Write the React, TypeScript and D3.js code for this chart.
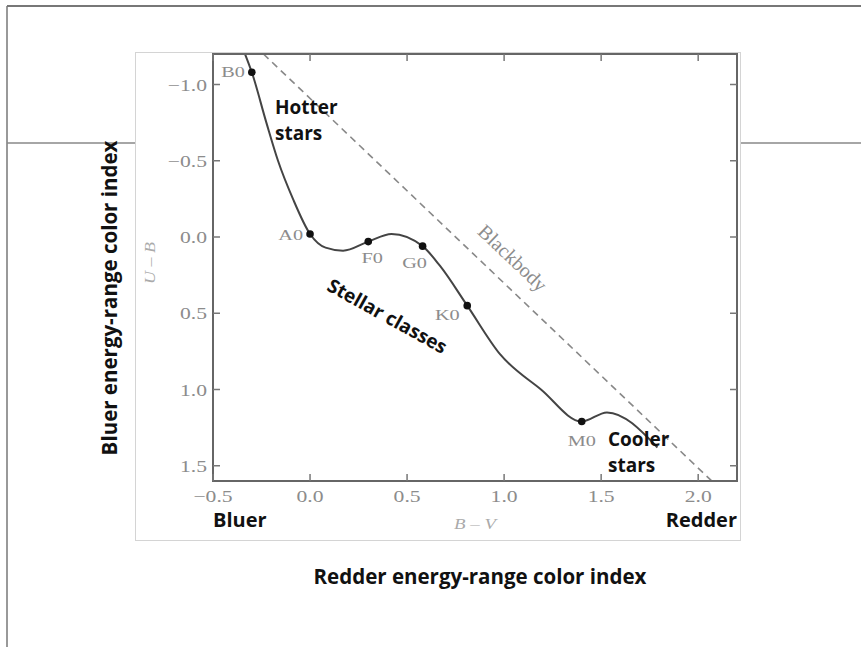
import React from 'react';
import * as d3 from 'd3';

// stellar locus in the (B-V, U-B) plane
const locusBV = [-0.335, -0.3, -0.225, -0.165, -0.088, 0.0, 0.08, 0.17, 0.3, 0.42, 0.58, 0.67, 0.81, 0.98, 1.19, 1.4, 1.53, 1.79];
const locusUB = [-1.2, -1.08, -0.75, -0.5, -0.25, -0.02, 0.07, 0.09, 0.03, -0.02, 0.06, 0.19, 0.45, 0.77, 1.0, 1.21, 1.15, 1.38];

const classNames = ['B0', 'A0', 'F0', 'G0', 'K0', 'M0'];
const classBV = [-0.3, 0.0, 0.3, 0.58, 0.81, 1.4];
const classUB = [-1.08, -0.02, 0.03, 0.06, 0.45, 1.21];

// blackbody line end points
const bbBV = [-0.24, 2.07];
const bbUB = [-1.2, 1.6];

const xTicks = [-0.5, 0.0, 0.5, 1.0, 1.5, 2.0];
const yTicks = [-1.0, -0.5, 0.0, 0.5, 1.0, 1.5];

const W = 861;
const H = 647;
const plot = { left: 213, right: 737, top: 54, bottom: 481 };

const sans = '"Open Sans", sans-serif';
const serif = '"Liberation Serif", serif';
const grey = '#8c8c8c';
const stretch = 1.35; // the pasted figure is stretched sideways

const fmt = (v: number) => (v < 0 ? '\u2212' : '') + Math.abs(v).toFixed(1);

// label offsets relative to the dot
const labelPos: Record<string, [number, number, string]> = {
  B0: [-7, 5, 'end'],
  A0: [-7, 6, 'end'],
  F0: [4, 21, 'middle'],
  G0: [-8, 22, 'middle'],
  K0: [-20, 14, 'middle'],
  M0: [0, 24, 'middle'],
};

type STProps = { x: number; y: number; anchor?: string; size?: number; italic?: boolean; fill?: string; children: any };
const SerifText = ({ x, y, anchor = 'start', size = 15, italic = false, fill = grey, children }: STProps) => (
  <text
    transform={`translate(${x},${y}) scale(${stretch},1)`}
    textAnchor={anchor}
    fontFamily={serif}
    fontStyle={italic ? 'italic' : 'normal'}
    fontSize={size}
    fill={fill}
  >
    {children}
  </text>
);

const App = () => {
  const x = d3.scaleLinear().domain([-0.5, 2.2]).range([plot.left, plot.right]);
  const y = d3.scaleLinear().domain([-1.2, 1.6]).range([plot.top, plot.bottom]);

  const locus = locusBV.map((v, i) => [v, locusUB[i]] as [number, number]);
  const line = d3
    .line<[number, number]>()
    .x((d) => x(d[0]))
    .y((d) => y(d[1]))
    .curve(d3.curveMonotoneX);

  const bx0 = x(bbBV[0]), by0 = y(bbUB[0]);
  const bx1 = x(bbBV[1]), by1 = y(bbUB[1]);
  const bbAngle = (Math.atan2(by1 - by0, bx1 - bx0) * 180) / Math.PI;

  return (
    <svg width={W} height={H} style={{ position: 'absolute', left: 0, top: 0, background: '#fff' }}>
      {/* slide frame */}
      <line x1={7} y1={6} x2={W} y2={6} stroke="#777" strokeWidth={2} />
      <line x1={7} y1={6} x2={7} y2={H} stroke="#777" strokeWidth={1.5} />
      <line x1={7} y1={143} x2={W} y2={143} stroke="#888" strokeWidth={1.5} />

      {/* figure panel */}
      <rect x={135.5} y={52.5} width={605} height={488} fill="#fff" stroke="#d4d4d4" strokeWidth={1} />

      {/* blackbody */}
      <line x1={bx0} y1={by0} x2={bx1} y2={by1} stroke="#888" strokeWidth={1.6} strokeDasharray="7,5" />
      <text
        transform={`translate(${x(1.02)},${y(0.17)}) rotate(${bbAngle})`}
        textAnchor="middle"
        fontFamily={serif}
        fontSize={20}
        fill={grey}
      >
        Blackbody
      </text>

      {/* stellar locus */}
      <path d={line(locus) || ''} fill="none" stroke="#444" strokeWidth={2} />
      {classNames.map((c, i) => {
        const [dx, dy, anchor] = labelPos[c];
        return (
          <g key={c}>
            <circle cx={x(classBV[i])} cy={y(classUB[i])} r={3.8} fill="#111" />
            <SerifText x={x(classBV[i]) + dx} y={y(classUB[i]) + dy} anchor={anchor} size={15}>
              {c}
            </SerifText>
          </g>
        );
      })}

      {/* plot frame and ticks */}
      <rect
        x={plot.left}
        y={plot.top}
        width={plot.right - plot.left}
        height={plot.bottom - plot.top}
        fill="none"
        stroke="#666"
        strokeWidth={2}
      />
      {xTicks.map((t) => (
        <g key={'x' + t}>
          <line x1={x(t)} x2={x(t)} y1={plot.bottom} y2={plot.bottom - 7} stroke="#777" strokeWidth={1.5} />
          <line x1={x(t)} x2={x(t)} y1={plot.top} y2={plot.top + 7} stroke="#777" strokeWidth={1.5} />
          <SerifText x={x(t)} y={plot.bottom + 21} anchor="middle" size={16}>
            {fmt(t)}
          </SerifText>
        </g>
      ))}
      {yTicks.map((t) => (
        <g key={'y' + t}>
          <line x1={plot.left} x2={plot.left + 7} y1={y(t)} y2={y(t)} stroke="#777" strokeWidth={1.5} />
          <line x1={plot.right} x2={plot.right - 7} y1={y(t)} y2={y(t)} stroke="#777" strokeWidth={1.5} />
          <SerifText x={plot.left - 6} y={y(t) + 6} anchor="end" size={16}>
            {fmt(t)}
          </SerifText>
        </g>
      ))}

      {/* axis symbols */}
      <SerifText x={475} y={529} anchor="middle" size={14} italic fill="#aaa">
        B {'\u2013'} V
      </SerifText>
      <text
        transform="translate(155,263) rotate(-90) scale(1.2,1)"
        textAnchor="middle"
        fontFamily={serif}
        fontStyle="italic"
        fontSize={15}
        fill="#aaa"
      >
        U {'\u2013'} B
      </text>

      {/* annotations */}
      <g fontFamily={sans} fontWeight={700} fill="#111">
        <text x={275} y={114} fontSize={19}>Hotter</text>
        <text x={275} y={140} fontSize={19}>stars</text>
        <text x={608} y={446} fontSize={19}>Cooler</text>
        <text x={608} y={472} fontSize={19}>stars</text>
        <text transform="translate(384,322) rotate(29)" textAnchor="middle" fontSize={19}>
          Stellar classes
        </text>
        <text x={213} y={527} fontSize={20}>Bluer</text>
        <text x={737} y={527} fontSize={20} textAnchor="end">
          Redder
        </text>
        <text x={480} y={584} fontSize={20.5} textAnchor="middle">
          Redder energy-range color index
        </text>
        <text transform="translate(117,298) rotate(-90)" fontSize={20.5} textAnchor="middle">
          Bluer energy-range color index
        </text>
      </g>
    </svg>
  );
};

export default App;
